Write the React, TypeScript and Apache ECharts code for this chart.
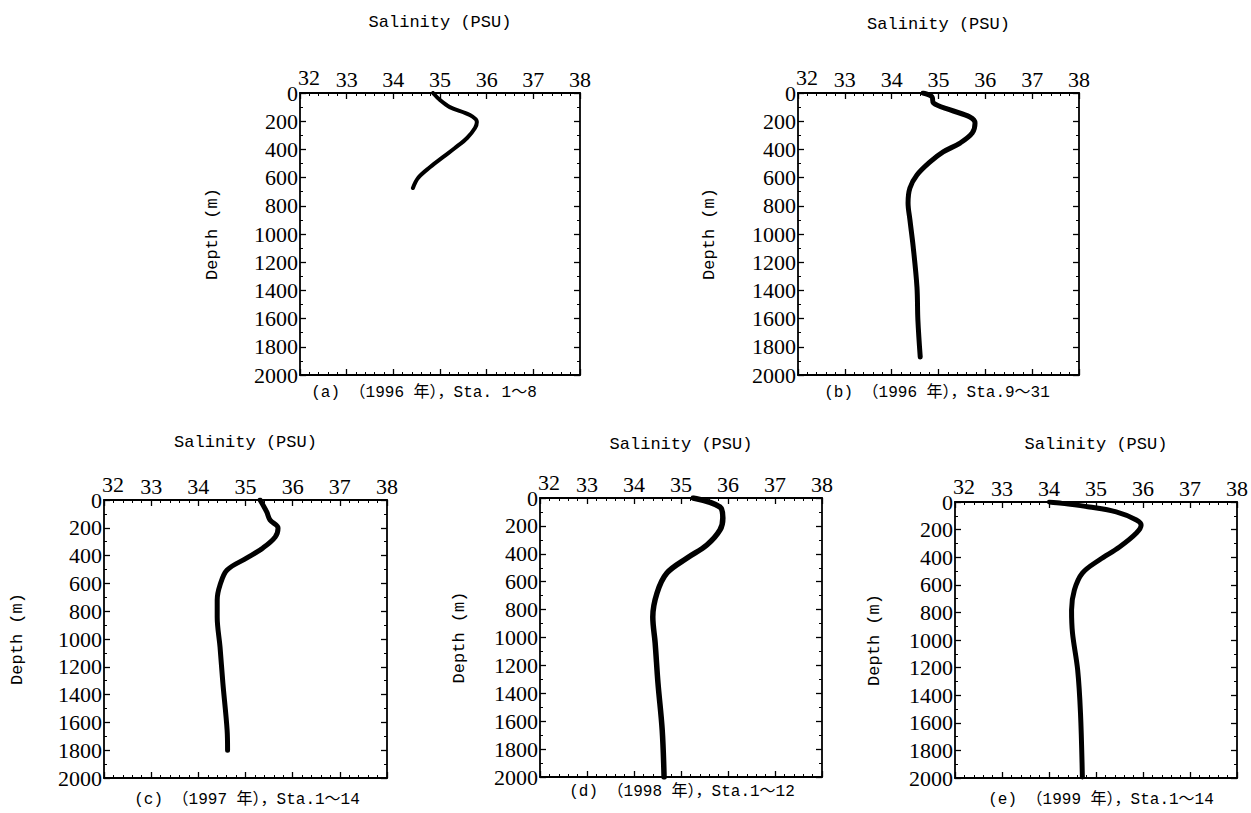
import React, { useEffect, useRef } from "react";
import * as echarts from "echarts";

// ---- data (salinity PSU vs depth m) ----
const salinityA = [34.85, 35.0, 35.21, 35.64, 35.79, 35.75, 35.58, 35.32, 35.07, 34.79, 34.53, 34.42];
const depthA = [0, 50, 100, 156, 205, 248, 319, 390, 453, 525, 603, 674];

const salinityB = [34.67, 34.86, 34.89, 35.25, 35.67, 35.78, 35.72, 35.46, 35.1, 34.82, 34.54, 34.39, 34.35, 34.39, 34.46, 34.54, 34.56, 34.61];
const depthB = [0, 26, 70, 120, 170, 213, 284, 355, 418, 489, 582, 674, 780, 900, 1092, 1376, 1610, 1872];

const salinityC = [35.31, 35.45, 35.52, 35.69, 35.63, 35.37, 35.03, 34.61, 34.46, 34.4, 34.4, 34.46, 34.52, 34.61, 34.62];
const depthC = [0, 86, 144, 201, 266, 345, 417, 504, 612, 720, 842, 1058, 1317, 1655, 1800];

const salinityD = [35.26, 35.83, 35.89, 35.83, 35.55, 35.13, 34.7, 34.49, 34.4, 34.45, 34.51, 34.6, 34.64];
const depthD = [0, 65, 143, 229, 337, 430, 538, 681, 853, 1039, 1326, 1663, 2000];

const salinityE = [34.01, 34.28, 34.86, 35.43, 35.86, 35.96, 35.86, 35.5, 35.07, 34.71, 34.54, 34.48, 34.5, 34.61, 34.67, 34.71];
const depthE = [0, 10, 36, 72, 130, 167, 225, 326, 420, 515, 638, 783, 949, 1217, 1529, 1993];

const captions = [
  "(a) （1996 年），Sta. 1～8",
  "(b) （1996 年），Sta.9～31",
  "(c) （1997 年），Sta.1～14",
  "(d) （1998 年），Sta.1～12",
  "(e) （1999 年），Sta.1～14",
];
const xTitle = "Salinity (PSU)";
const yTitle = "Depth (m)";
const salinityRange = [32, 38];
const depthRange = [0, 2000];

const panels = [
  { sal: salinityA, dep: depthA, width: 4 },
  { sal: salinityB, dep: depthB, width: 5 },
  { sal: salinityC, dep: depthC, width: 5 },
  { sal: salinityD, dep: depthD, width: 5.5 },
  { sal: salinityE, dep: depthE, width: 5 },
];

// ---- layout ----
const grids = [
  { left: 300, top: 93, width: 280, height: 282 },
  { left: 798, top: 93, width: 281, height: 282 },
  { left: 104, top: 500, width: 283, height: 278 },
  { left: 540, top: 498, width: 282, height: 279 },
  { left: 955, top: 502, width: 283, height: 276 },
];
const xNameGap = [62, 60, 49, 45, 49];
const yNameGap = [79, 80, 78, 72, 72];
const captionPos = [
  { x: 424, y: 393 },
  { x: 937, y: 393 },
  { x: 247, y: 800 },
  { x: 682, y: 792 },
  { x: 1101, y: 800 },
];

const SERIF = "'Liberation Serif', 'DejaVu Serif', serif";
const MONO = "'Liberation Mono', 'Noto Sans CJK SC', monospace";
const BLACK = "#000";

export default function App() {
  const ref = useRef<HTMLDivElement>(null);
  useEffect(() => {
    document.body.style.margin = "0";
    if (!ref.current) return;
    const chart = echarts.init(ref.current, undefined, { renderer: "svg" });

    const tickCommon = {
      axisTick: { show: true, inside: true, length: 6, lineStyle: { color: BLACK, width: 1.3 } },
      minorTick: { show: true, length: 3, lineStyle: { color: BLACK, width: 1 } },
      axisLine: { show: true, onZero: false, lineStyle: { color: BLACK, width: 1.8 } },
      splitLine: { show: false },
    };

    const xAxes: any[] = [];
    const yAxes: any[] = [];
    grids.forEach((_, i) => {
      xAxes.push({
        type: "value",
        gridIndex: i,
        position: "top",
        min: salinityRange[0],
        max: salinityRange[1],
        interval: 1,
        ...tickCommon,
        minorTick: { ...tickCommon.minorTick, splitNumber: 5 },
        axisLabel: {
          color: BLACK,
          fontFamily: SERIF,
          fontSize: 22,
          margin: 3,
          formatter: (v: number) => (v === 32 ? "{s|32}" : String(v)),
          rich: { s: { fontFamily: SERIF, fontSize: 22, color: BLACK, padding: [0, 0, 2, 18] } },
        },
        name: xTitle,
        nameLocation: "middle",
        nameGap: xNameGap[i],
        nameTextStyle: { fontFamily: MONO, fontSize: 17, color: BLACK },
      });
      xAxes.push({
        type: "value",
        gridIndex: i,
        position: "bottom",
        min: salinityRange[0],
        max: salinityRange[1],
        interval: 1,
        ...tickCommon,
        minorTick: { ...tickCommon.minorTick, splitNumber: 5 },
        axisLabel: { show: false },
      });
      yAxes.push({
        type: "value",
        gridIndex: i,
        position: "left",
        inverse: true,
        min: depthRange[0],
        max: depthRange[1],
        interval: 200,
        ...tickCommon,
        minorTick: { ...tickCommon.minorTick, splitNumber: 2 },
        axisLabel: {
          color: BLACK,
          fontFamily: SERIF,
          fontSize: 22,
          margin: 2,
          formatter: (v: number) => String(v),
        },
        name: yTitle,
        nameLocation: "middle",
        nameGap: yNameGap[i],
        nameRotate: 90,
        nameTextStyle: { fontFamily: MONO, fontSize: 17, color: BLACK },
      });
      yAxes.push({
        type: "value",
        gridIndex: i,
        position: "right",
        inverse: true,
        min: depthRange[0],
        max: depthRange[1],
        interval: 200,
        ...tickCommon,
        minorTick: { ...tickCommon.minorTick, splitNumber: 2 },
        axisLabel: { show: false },
      });
    });

    const series = panels.map((p, i) => ({
      type: "line",
      xAxisIndex: i * 2,
      yAxisIndex: i * 2,
      data: p.sal.map((s, k) => [s, p.dep[k]]),
      showSymbol: false,
      smooth: 0.35,
      lineStyle: { color: BLACK, width: p.width, cap: "round", join: "round" },
      itemStyle: { color: BLACK },
      z: 3,
    }));

    const graphic = captions.map((c, i) => ({
      type: "text",
      x: captionPos[i].x,
      y: captionPos[i].y,
      style: {
        text: c,
        fill: BLACK,
        font: `16px ${MONO}`,
        align: "center",
        verticalAlign: "middle",
      },
    }));

    chart.setOption({
      animation: false,
      backgroundColor: "#fff",
      grid: grids.map((g) => ({ ...g, containLabel: false })),
      xAxis: xAxes,
      yAxis: yAxes,
      series,
      graphic,
    });
    return () => chart.dispose();
  }, []);
  return <div ref={ref} style={{ width: 1251, height: 813 }} />;
}
